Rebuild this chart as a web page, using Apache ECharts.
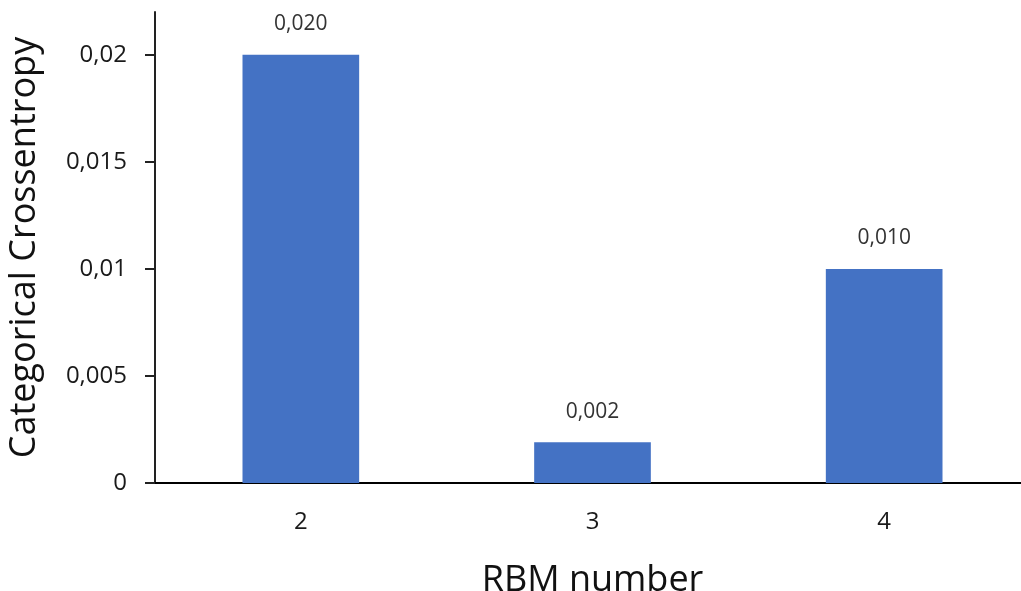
<!DOCTYPE html>
<html><head><meta charset="utf-8">
<script src="https://cdn.jsdelivr.net/npm/echarts@6/dist/echarts.min.js"></script>
<style>html,body{margin:0;padding:0;background:#fff}#c{width:1021px;height:591px}</style>
</head><body><div id="c"></div>
<script>
const categories = ['2', '3', '4'];
const values = [0.0200, 0.0019, 0.0100];
const labelTexts = ['0,020', '0,002', '0,010'];
const yTicks = [0, 0.005, 0.01, 0.015, 0.02];
const yTickLabels = ['0', '0,005', '0,01', '0,015', '0,02'];

const chart = echarts.init(document.getElementById('c'));
const font = 'Open Sans';
chart.setOption({
  animation: false,
  grid: { left: 155, top: 12, right: -9, bottom: 108, containLabel: false, outerBoundsMode: 'none' },
  xAxis: {
    type: 'category', data: categories,
    axisLine: { lineStyle: { color: '#000', width: 2 } },
    axisTick: { show: false },
    axisLabel: { color: '#1a1a1a', fontFamily: font, fontSize: 24, margin: 27 },
    name: 'RBM number', nameLocation: 'middle', nameGap: 80,
    nameTextStyle: { color: '#111', fontFamily: font, fontSize: 36 }
  },
  yAxis: {
    type: 'value', min: 0, max: 0.022,
    axisLine: { show: true, lineStyle: { color: '#222', width: 2 } },
    axisTick: { show: true, length: 10, customValues: yTicks, lineStyle: { color: '#222', width: 2 } },
    splitLine: { show: false },
    axisLabel: {
      customValues: yTicks, color: '#1a1a1a', fontFamily: font, fontSize: 24, margin: 28,
      formatter: v => yTickLabels[yTicks.findIndex(t => Math.abs(t - v) < 1e-9)] ?? ''
    },
    name: 'Categorical Crossentropy', nameLocation: 'middle', nameGap: 112,
    nameTextStyle: { color: '#111', fontFamily: font, fontSize: 36 }
  },
  series: [{
    type: 'bar', data: values, barWidth: '40%',
    itemStyle: { color: '#4472C4' },
    label: {
      show: true, position: 'top', distance: 20, color: '#333', fontFamily: font, fontSize: 21,
      formatter: p => labelTexts[p.dataIndex]
    }
  }]
});
</script></body></html>
